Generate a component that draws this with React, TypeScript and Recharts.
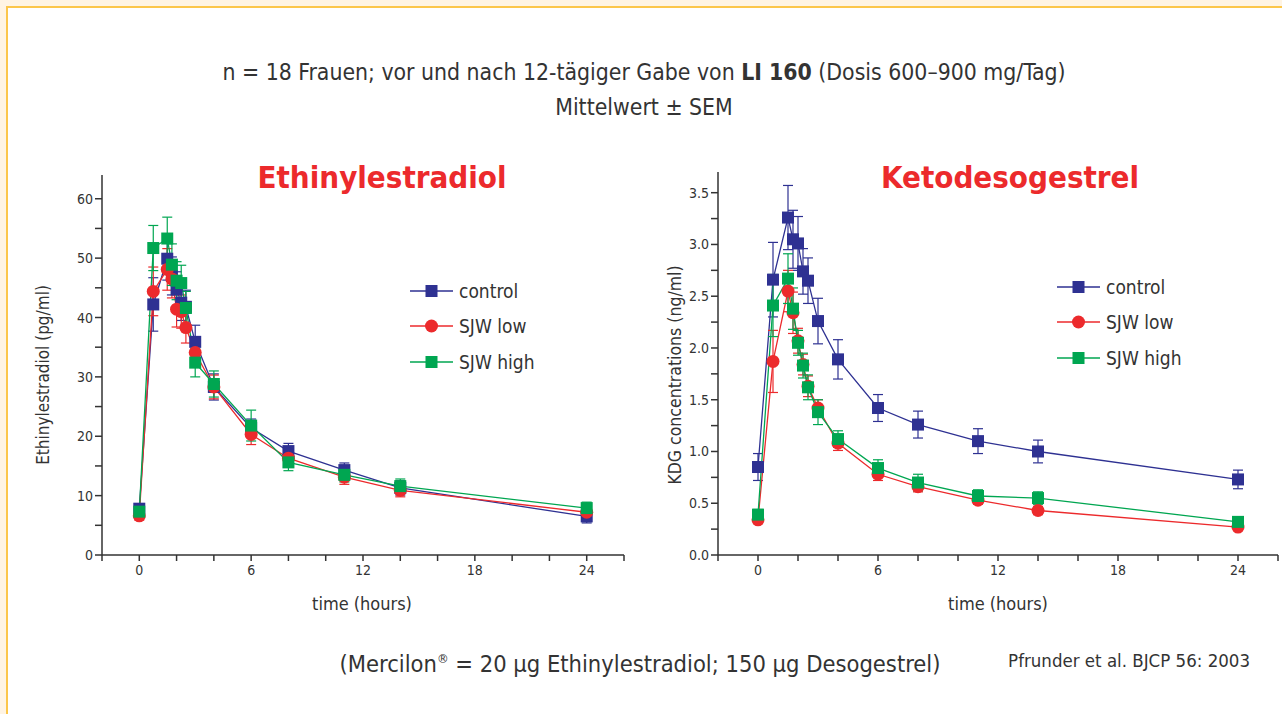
import { LineChart, Line, XAxis, YAxis, ErrorBar } from 'recharts';

// sampling times (hours) - same for both panels
const times = [0, 0.75, 1.5, 1.75, 2, 2.25, 2.5, 3, 4, 6, 8, 11, 14, 24];

// Ethinylestradiol (pg/ml), mean and SEM
const eeControl = [7.8, 42.2, 49.9, 47.0, 44.7, 42.5, 41.8, 35.9, 28.3, 21.4, 17.5, 14.3, 11.3, 6.5];
const eeControlSem = [0.8, 4.5, 3.6, 3.2, 3.0, 3.0, 2.8, 2.8, 2.2, 1.5, 1.3, 1.2, 1.2, 1.1];
const eeLow = [6.6, 44.4, 48.1, 46.5, 41.4, 41.0, 38.3, 34.1, 28.3, 20.3, 16.3, 13.1, 10.9, 7.2];
const eeLowSem = [0.7, 4.1, 3.5, 3.2, 3.0, 2.8, 2.6, 2.4, 2.0, 1.7, 1.3, 1.2, 1.1, 1.0];
const eeHigh = [7.3, 51.7, 53.3, 48.9, 46.2, 45.8, 41.6, 32.4, 28.8, 21.8, 15.6, 13.5, 11.6, 7.9];
const eeHighSem = [0.7, 3.8, 3.6, 3.5, 3.2, 3.0, 2.8, 2.4, 2.2, 2.6, 1.4, 1.2, 1.2, 1.0];

// Ketodesogestrel (ng/ml), mean and SEM
const kdgControl = [0.85, 2.66, 3.26, 3.05, 3.01, 2.74, 2.65, 2.26, 1.89, 1.42, 1.26, 1.10, 1.00, 0.73];
const kdgControlSem = [0.13, 0.36, 0.31, 0.28, 0.26, 0.22, 0.22, 0.22, 0.19, 0.13, 0.13, 0.12, 0.11, 0.09];
const kdgLow = [0.34, 1.87, 2.55, 2.34, 2.07, 1.84, 1.63, 1.42, 1.08, 0.78, 0.66, 0.53, 0.43, 0.27];
const kdgLowSem = [0.03, 0.30, 0.20, 0.20, 0.12, 0.10, 0.10, 0.08, 0.07, 0.06, 0.05, 0.04, 0.04, 0.03];
const kdgHigh = [0.39, 2.41, 2.67, 2.38, 2.05, 1.83, 1.62, 1.38, 1.12, 0.84, 0.70, 0.57, 0.55, 0.32];
const kdgHighSem = [0.05, 0.30, 0.24, 0.20, 0.12, 0.12, 0.12, 0.12, 0.08, 0.08, 0.08, 0.06, 0.06, 0.05];

const xTicks = [-2, 0, 2, 4, 6, 8, 10, 12, 14, 16, 18, 20, 22, 24, 26];
const eeTicks = [0, 5, 10, 15, 20, 25, 30, 35, 40, 45, 50, 55, 60];
const kdgTicks = [0, 0.25, 0.5, 0.75, 1, 1.25, 1.5, 1.75, 2, 2.25, 2.5, 2.75, 3, 3.25, 3.5];

const seriesNames = ['control', 'SJW low', 'SJW high'];

const BLUE = '#2e3192';
const RED = '#ec2a2c';
const GREEN = '#00a651';
const FONT = "'Liberation Sans Narrow', 'DejaVu Sans Condensed', Roboto, sans-serif";
const AXIS = '#333';

const eeData = times.map((t, i) => ({
  t,
  control: eeControl[i], controlErr: eeControlSem[i],
  low: eeLow[i], lowErr: eeLowSem[i],
  high: eeHigh[i], highErr: eeHighSem[i],
}));

const kdgData = times.map((t, i) => ({
  t,
  control: kdgControl[i], controlErr: kdgControlSem[i],
  low: kdgLow[i], lowErr: kdgLowSem[i],
  high: kdgHigh[i], highErr: kdgHighSem[i],
}));

const Square = (color: string) => (props: any) => {
  const { cx, cy, index } = props;
  if (cx == null || cy == null) return <g key={index} />;
  return <rect key={index} x={cx - 6} y={cy - 6} width={12} height={12} fill={color} />;
};

const Circle = (color: string) => (props: any) => {
  const { cx, cy, index } = props;
  if (cx == null || cy == null) return <g key={index} />;
  return <circle key={index} cx={cx} cy={cy} r={6.5} fill={color} />;
};

const XTick = (props: any) => {
  const { x, y, payload } = props;
  const v = payload.value;
  if (v < 0 || v > 24 || v % 6 !== 0) return <g />;
  return (
    <text x={x} y={y + 12} textAnchor="middle" fontSize={14} fill={AXIS} fontFamily={FONT}>{v}</text>
  );
};

const YTick = (fmt: (v: number) => string | null) => (props: any) => {
  const { x, y, payload } = props;
  const s = fmt(payload.value);
  if (s === null) return <g />;
  return (
    <text x={x} y={y + 5} textAnchor="end" fontSize={14} fill={AXIS} fontFamily={FONT}>{s}</text>
  );
};

const LegendBox = ({ left, top }: { left: number; top: number }) => {
  const marks = [
    { c: BLUE, shape: 'sq' },
    { c: RED, shape: 'ci' },
    { c: GREEN, shape: 'sq' },
  ];
  return (
    <div style={{ position: 'absolute', left, top }}>
      {marks.map((m, i) => (
        <div key={i} style={{ display: 'flex', alignItems: 'center', height: 35.5 }}>
          <svg width={50} height={16}>
            <line x1={0} y1={8} x2={43} y2={8} stroke={m.c} strokeWidth={1.5} />
            {m.shape === 'sq'
              ? <rect x={15.5} y={2} width={12} height={12} fill={m.c} />
              : <circle cx={21.5} cy={8} r={6.5} fill={m.c} />}
          </svg>
          <span style={{ fontFamily: FONT, fontSize: 19, color: '#333', marginLeft: -1 }}>{seriesNames[i]}</span>
        </div>
      ))}
    </div>
  );
};

function Panel({ data, yDomain, yTicks, yFmt, width, height, plotW }: any) {
  return (
    <LineChart width={width} height={height} data={data} margin={{ top: 0, right: width - 60 - plotW, left: 0, bottom: 0 }}>
      <XAxis
        type="number"
        dataKey="t"
        domain={[-2, 26]}
        ticks={xTicks}
        interval={0}
        height={60}
        tickSize={6}
        stroke={AXIS}
        strokeWidth={1.5}
        tick={<XTick />}
      />
      <YAxis
        type="number"
        domain={yDomain}
        ticks={yTicks}
        interval={0}
        width={60}
        tickSize={7}
        stroke={AXIS}
        strokeWidth={1.5}
        tick={YTick(yFmt)}
      />
      <Line dataKey="control" stroke={BLUE} strokeWidth={1.3} dot={Square(BLUE)} isAnimationActive={false}>
        <ErrorBar dataKey="controlErr" direction="y" width={5} stroke={BLUE} strokeWidth={1.2} />
      </Line>
      <Line dataKey="low" stroke={RED} strokeWidth={1.3} dot={Circle(RED)} isAnimationActive={false}>
        <ErrorBar dataKey="lowErr" direction="y" width={5} stroke={RED} strokeWidth={1.2} />
      </Line>
      <Line dataKey="high" stroke={GREEN} strokeWidth={1.3} dot={Square(GREEN)} isAnimationActive={false}>
        <ErrorBar dataKey="highErr" direction="y" width={5} stroke={GREEN} strokeWidth={1.2} />
      </Line>
    </LineChart>
  );
}

const abs = (left: number, top: number, extra: any = {}) => ({ position: 'absolute' as const, left, top, ...extra });

export default function App() {
  return (
    <div style={{ position: 'absolute', left: 0, top: 0, width: 1282, height: 714, background: '#fff4e3', overflow: 'hidden', fontFamily: FONT }}>
      <div style={{ position: 'absolute', left: 6, top: 6, right: 0, bottom: 0, background: '#fff', borderLeft: '2px solid #fcc64a', borderTop: '2px solid #fcc64a' }} />

      <div style={abs(0, 58, { width: 1288, textAlign: 'center', fontSize: 22.8, color: '#333', lineHeight: '28px' })}>
        n = 18 Frauen; vor und nach 12-tägiger Gabe von <b style={{ fontWeight: 900 }}>LI 160</b> (Dosis 600–900 mg/Tag)
      </div>
      <div style={abs(0, 93, { width: 1288, textAlign: 'center', fontSize: 22.8, color: '#333', lineHeight: '28px' })}>
        Mittelwert ± SEM
      </div>

      <div style={abs(182, 158, { width: 400, textAlign: 'center', fontSize: 31, fontWeight: 900, color: RED, lineHeight: '38px' })}>
        Ethinylestradiol
      </div>
      <div style={abs(810, 158, { width: 400, textAlign: 'center', fontSize: 31, fontWeight: 900, color: RED, lineHeight: '38px' })}>
        Ketodesogestrel
      </div>

      <div style={abs(42, 175)}>
        <Panel data={eeData} yDomain={[0, 64]} yTicks={eeTicks} yFmt={(v: number) => (v % 10 === 0 ? String(v) : null)}
          width={600} height={440} plotW={522} />
      </div>
      <div style={abs(658, 172)}>
        <Panel data={kdgData} yDomain={[0, 3.7]} yTicks={kdgTicks} yFmt={(v: number) => (Math.abs(v * 2 - Math.round(v * 2)) < 1e-6 ? v.toFixed(1) : null)}
          width={624} height={443} plotW={560} />
      </div>

      <LegendBox left={410} top={273} />
      <LegendBox left={1057} top={269} />

      <div style={abs(43 - 150, 375 - 11, { width: 300, textAlign: 'center', fontSize: 17, color: '#333', transform: 'rotate(-90deg)', lineHeight: '22px' })}>
        Ethinylestradiol (pg/ml)
      </div>
      <div style={abs(675 - 150, 375 - 11, { width: 300, textAlign: 'center', fontSize: 17.5, color: '#333', transform: 'rotate(-90deg)', lineHeight: '22px' })}>
        KDG concentrations (ng/ml)
      </div>

      <div style={abs(262, 592, { width: 200, textAlign: 'center', fontSize: 18, color: '#333', lineHeight: '24px' })}>
        time (hours)
      </div>
      <div style={abs(898, 592, { width: 200, textAlign: 'center', fontSize: 18, color: '#333', lineHeight: '24px' })}>
        time (hours)
      </div>

      <div style={abs(240, 645, { width: 800, textAlign: 'center', fontSize: 23.5, color: '#333', lineHeight: '28px' })}>
        (Mercilon<sup style={{ fontSize: 13 }}>®</sup> = 20 μg Ethinylestradiol; 150 μg Desogestrel)
      </div>
      <div style={abs(950, 649, { width: 300, textAlign: 'right', fontSize: 18.5, color: '#333', lineHeight: '24px' })}>
        Pfrunder et al. BJCP 56: 2003
      </div>
    </div>
  );
}
